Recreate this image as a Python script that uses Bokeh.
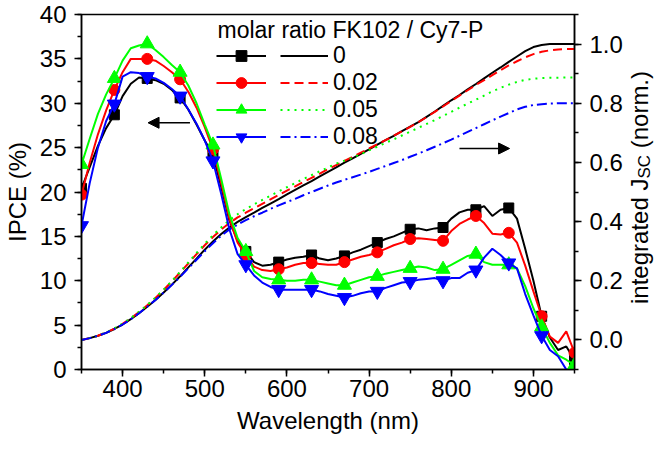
from bokeh.plotting import figure
from bokeh.layouts import row
from bokeh.models import (Range1d, LinearAxis, SingleIntervalTicker, Legend, LegendItem,
                          Label, Arrow, NormalHead, PrintfTickFormatter)
from bokeh.embed import file_html
from bokeh.resources import INLINE

# ---------------- data ----------------
wavelength = list(range(350, 951, 10))
ratios = ["0", "0.02", "0.05", "0.08"]

ipce_0 = [20.4, 22.8, 25.2, 27.2, 28.7, 30.8, 32.2, 32.9, 32.8, 32.6, 32.2,
          31.5, 30.6, 29.3, 27.6, 25.8, 24.2, 20.6, 16.8, 14.5, 13.3,
          12.1, 11.7, 11.8, 12.1, 12.4, 12.6, 12.7, 12.9, 12.5, 12.3,
          12.5, 12.8, 13.2, 13.5, 13.9, 14.3, 14.7, 15.0, 15.4, 15.8,
          15.9, 15.7, 15.9, 16.0, 17.0, 17.7, 18.0, 18.0, 18.4, 17.3,
          18.0, 18.2, 17.0, 13.6, 10.0, 6.0, 3.6, 2.2, 2.6, 1.1]
ipce_02 = [19.7, 23.3, 26.5, 29.2, 31.5, 33.5, 35.0, 35.0, 35.0, 34.8, 34.2,
           33.5, 32.7, 31.3, 29.5, 27.3, 24.8, 21.0, 17.0, 14.3, 12.9,
           11.6, 11.2, 11.1, 11.3, 11.5, 11.8, 12.0, 12.0, 11.9, 11.8,
           11.8, 12.1, 12.4, 12.7, 12.9, 13.2, 13.6, 14.0, 14.3, 14.7,
           14.8, 14.7, 14.6, 14.5, 15.6, 16.4, 16.9, 17.3, 16.5, 15.3,
           15.2, 15.4, 14.3, 11.7, 8.8, 6.0, 3.7, 3.0, 4.3, 1.9]
ipce_05 = [23.1, 26.0, 28.8, 31.0, 32.8, 34.8, 36.2, 36.5, 36.7, 36.0, 35.2,
           34.3, 33.5, 32.0, 30.0, 27.6, 25.3, 21.5, 17.5, 14.8, 13.3,
           11.1, 10.4, 10.2, 10.1, 10.0, 10.0, 10.1, 10.1, 9.9, 9.7,
           9.5, 9.5, 9.8, 10.1, 10.4, 10.5, 10.8, 11.0, 11.2, 11.4,
           11.6, 11.5, 11.2, 11.3, 11.8, 12.3, 12.8, 13.0, 12.1, 11.8,
           11.8, 11.8, 11.4, 9.4, 6.9, 4.8, 3.0, 1.6, 1.1, 0.5]
ipce_08 = [16.2, 21.0, 25.0, 28.0, 29.9, 33.0, 33.5, 33.4, 33.0, 32.8, 32.3,
           31.6, 30.8, 29.3, 27.7, 25.8, 23.5, 19.8, 15.8, 13.0, 11.8,
           10.6, 9.8, 9.3, 9.0, 9.0, 9.0, 9.0, 9.0, 8.8, 8.5,
           8.3, 8.1, 8.3, 8.6, 8.8, 8.8, 9.2, 9.5, 9.8, 9.9,
           10.1, 10.2, 10.3, 10.0, 10.3, 10.3, 10.9, 11.2, 12.6, 13.6,
           12.9, 12.0, 11.4, 8.5, 6.1, 3.8, 2.2, 1.5, 0.0, -0.8]

jsc_0 = [0.000, 0.006, 0.014, 0.024, 0.037, 0.052, 0.070, 0.090, 0.112, 0.135, 0.160,
         0.187, 0.215, 0.245, 0.275, 0.305, 0.333, 0.358, 0.380, 0.399, 0.415,
         0.430, 0.446, 0.461, 0.476, 0.492, 0.507, 0.522, 0.537, 0.553, 0.568,
         0.583, 0.599, 0.614, 0.629, 0.644, 0.660, 0.675, 0.690, 0.706, 0.721,
         0.736, 0.754, 0.772, 0.791, 0.810, 0.828, 0.847, 0.865, 0.884, 0.903,
         0.921, 0.940, 0.958, 0.976, 0.990, 0.997, 1.000, 1.000, 1.000, 1.000]
jsc_02 = [0.000, 0.006, 0.014, 0.025, 0.038, 0.054, 0.073, 0.094, 0.117, 0.142, 0.169,
          0.198, 0.228, 0.259, 0.290, 0.320, 0.348, 0.373, 0.395, 0.414, 0.430,
          0.445, 0.460, 0.475, 0.490, 0.505, 0.519, 0.534, 0.548, 0.562, 0.577,
          0.591, 0.605, 0.619, 0.633, 0.647, 0.661, 0.675, 0.690, 0.705, 0.720,
          0.736, 0.753, 0.771, 0.789, 0.808, 0.826, 0.844, 0.862, 0.878, 0.895,
          0.912, 0.928, 0.942, 0.955, 0.966, 0.974, 0.979, 0.982, 0.983, 0.983]
jsc_05 = [0.000, 0.006, 0.014, 0.025, 0.039, 0.055, 0.074, 0.095, 0.118, 0.143, 0.170,
          0.199, 0.230, 0.262, 0.294, 0.325, 0.354, 0.380, 0.405, 0.425, 0.442,
          0.458, 0.473, 0.488, 0.502, 0.516, 0.530, 0.544, 0.557, 0.570, 0.583,
          0.596, 0.606, 0.616, 0.628, 0.641, 0.653, 0.666, 0.678, 0.691, 0.704,
          0.717, 0.730, 0.743, 0.757, 0.771, 0.785, 0.799, 0.812, 0.826, 0.840,
          0.852, 0.863, 0.872, 0.879, 0.883, 0.885, 0.886, 0.886, 0.887, 0.887]
jsc_08 = [0.000, 0.006, 0.014, 0.024, 0.037, 0.052, 0.070, 0.090, 0.112, 0.135, 0.160,
          0.186, 0.213, 0.242, 0.271, 0.300, 0.327, 0.352, 0.373, 0.390, 0.405,
          0.418, 0.430, 0.443, 0.455, 0.466, 0.477, 0.489, 0.500, 0.511, 0.522,
          0.532, 0.541, 0.550, 0.559, 0.568, 0.578, 0.588, 0.598, 0.608, 0.619,
          0.630, 0.641, 0.653, 0.665, 0.677, 0.690, 0.703, 0.716, 0.729, 0.742,
          0.755, 0.767, 0.779, 0.788, 0.794, 0.797, 0.799, 0.800, 0.800, 0.800]

ipce_sets = [ipce_0, ipce_02, ipce_05, ipce_08]
jsc_sets = [jsc_0, jsc_02, jsc_05, jsc_08]

# ---------------- style ----------------
FONT = "Liberation Sans"
colors = ["#000000", "#ff0000", "#00ff00", "#0000ff"]
markers = ["square", "circle", "triangle", "inverted_triangle"]
marker_sizes = [10, 11, 14, 14]
dashes = ["solid", "9 5", "2 5", "10 4 2 4"]

p = figure(frame_width=493, frame_height=355,
           min_border_left=75, min_border_right=48, min_border_top=14, min_border_bottom=75,
           x_range=Range1d(350, 950), y_range=Range1d(0, 40),
           output_backend="svg", toolbar_location=None)
p.extra_y_ranges = {"jsc": Range1d(-0.1, 1.1)}
p.xgrid.visible = False
p.ygrid.visible = False
p.outline_line_color = "black"
p.outline_line_width = 1.5
p.background_fill_color = "white"
p.border_fill_color = "white"

p.xaxis.ticker = SingleIntervalTicker(interval=100, num_minor_ticks=2)
p.yaxis.ticker = SingleIntervalTicker(interval=5, num_minor_ticks=2)
p.xaxis.axis_label = "Wavelength (nm)"
p.yaxis.axis_label = "IPCE (%)"

right = LinearAxis(y_range_name="jsc",
                   ticker=SingleIntervalTicker(interval=0.2, num_minor_ticks=2),
                   formatter=PrintfTickFormatter(format="%.1f"))
p.add_layout(right, "right")

for ax in [p.xaxis[0], p.yaxis[0], right]:
    ax.axis_line_color = "black"
    ax.axis_line_width = 1.5
    ax.major_tick_line_color = "black"
    ax.major_tick_line_width = 1.5
    ax.minor_tick_line_color = "black"
    ax.minor_tick_line_width = 1.5
    ax.major_tick_in = 0
    ax.major_tick_out = 7
    ax.minor_tick_in = 0
    ax.minor_tick_out = 4
    ax.major_label_text_font = FONT
    ax.major_label_text_font_size = "24px"
    ax.major_label_text_color = "black"
    ax.major_label_standoff = 8
    ax.axis_label_text_font = FONT
    ax.axis_label_text_font_size = "24px"
    ax.axis_label_text_font_style = "normal"
    ax.axis_label_text_color = "black"
p.xaxis[0].major_label_standoff = 3
p.xaxis[0].axis_label_standoff = 7
p.yaxis[0].axis_label_standoff = 6

items1, items2 = [], []
for i in range(4):
    jl = p.line(wavelength, jsc_sets[i], y_range_name="jsc", line_color=colors[i],
                line_width=2, line_dash=dashes[i])
    il = p.line(wavelength, ipce_sets[i], line_color=colors[i], line_width=2)
    sc = p.scatter(wavelength[::4], ipce_sets[i][::4], marker=markers[i], size=marker_sizes[i],
                   fill_color=colors[i], line_color=colors[i])
    items1.append(LegendItem(label="", renderers=[il, sc]))
    items2.append(LegendItem(label=ratios[i], renderers=[jl]))

common = dict(orientation="vertical", glyph_height=27, spacing=0, padding=0, margin=0,
              border_line_alpha=0, background_fill_alpha=0,
              label_text_font=FONT, label_text_font_size="23px", label_text_color="black")
leg1 = Legend(items=items1, location=(135, 219.5), glyph_width=50, label_standoff=0, **common)
leg2 = Legend(items=items2, location=(199, 219.5), glyph_width=48, label_standoff=5, **common)
p.add_layout(leg1)
p.add_layout(leg2)

p.add_layout(Label(x=136, y=340, x_units="screen", y_units="screen",
                   text="molar ratio FK102 / Cy7-P", text_font=FONT, text_font_size="23px",
                   text_color="black", text_baseline="alphabetic", text_align="left"))

# arrows pointing to the relevant axes
p.add_layout(Arrow(end=NormalHead(size=11, fill_color="black", line_color="black"),
                   x_start=482, y_start=27.8, x_end=431, y_end=27.8,
                   line_color="black", line_width=1.5))
p.add_layout(Arrow(end=NormalHead(size=11, fill_color="black", line_color="black"),
                   x_start=810, y_start=24.9, x_end=871, y_end=24.9,
                   line_color="black", line_width=1.5))

# narrow strip on the right that carries the right-axis title (with subscript);
# its frame is aligned with the main frame by the row layout
t = figure(frame_width=29, frame_height=355, x_range=Range1d(0, 29), y_range=Range1d(0, 355),
           min_border=0, min_border_top=14, min_border_bottom=75,
           x_axis_location=None, y_axis_location=None,
           output_backend="svg", toolbar_location=None)
t.xgrid.visible = False
t.ygrid.visible = False
t.outline_line_color = None
t.add_layout(Label(x=14, y=65.5, x_units="screen", y_units="screen", text="integrated J",
                   angle=90, angle_units="deg", text_font=FONT, text_font_size="24px",
                   text_color="black", text_baseline="middle", text_align="left"))
t.add_layout(Label(x=19.4, y=190.9, x_units="screen", y_units="screen", text="SC",
                   angle=90, angle_units="deg", text_font=FONT, text_font_size="17px",
                   text_color="black", text_baseline="middle", text_align="left"))
t.add_layout(Label(x=14, y=221.2, x_units="screen", y_units="screen", text="(norm.)",
                   angle=90, angle_units="deg", text_font=FONT, text_font_size="24px",
                   text_color="black", text_baseline="middle", text_align="left"))

layout = row(p, t, spacing=0)
open("out.html", "w").write(file_html(layout, INLINE))
